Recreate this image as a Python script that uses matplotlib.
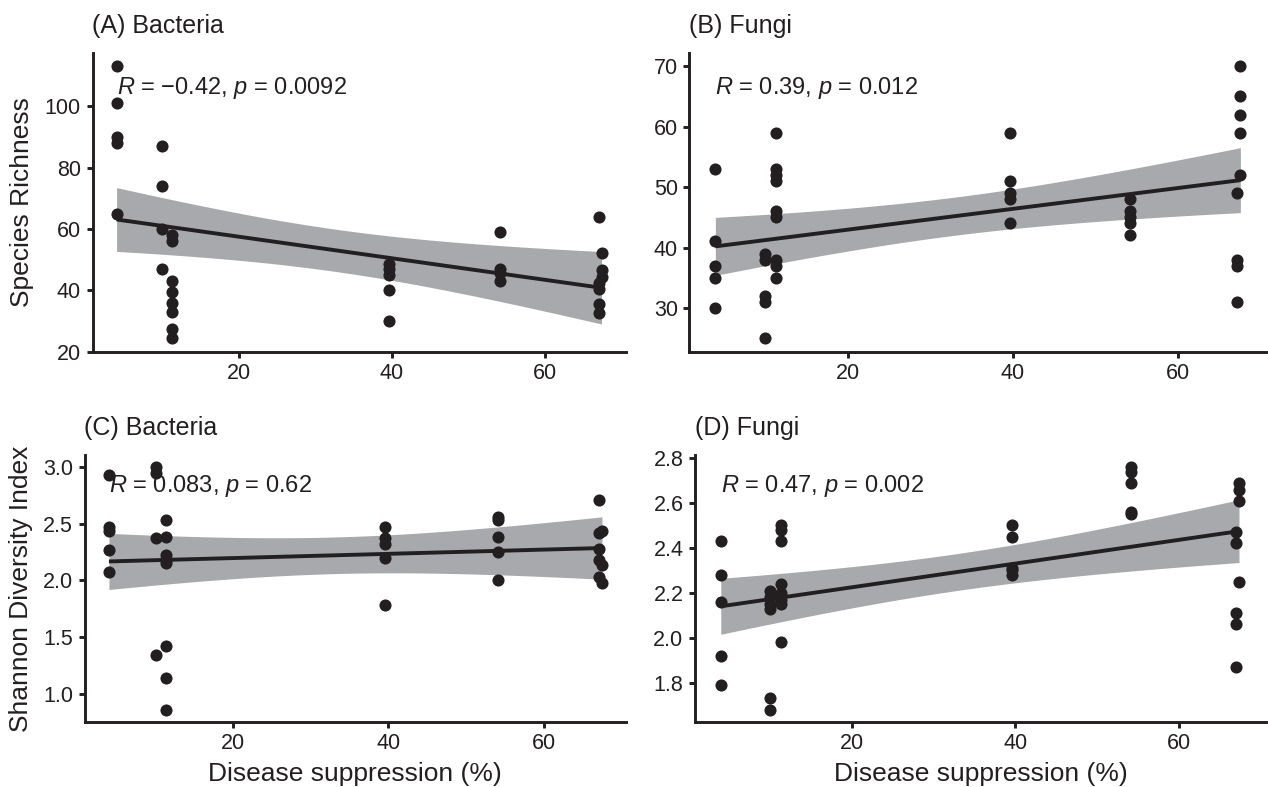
import numpy as np
import matplotlib
matplotlib.use("Agg")
import matplotlib.pyplot as plt
from matplotlib.ticker import FormatStrFormatter

plt.rcParams["font.family"] = ["Liberation Sans", "DejaVu Sans"]
plt.rcParams["mathtext.fontset"] = "custom"
plt.rcParams["mathtext.rm"] = "Liberation Sans"
plt.rcParams["mathtext.it"] = "Liberation Sans:italic"

INK = "#231f20"
BAND = "#a7a9ac"

# disease suppression (%) of each sample, per panel
x_bac_rich = [4, 4, 4, 4, 4,
              10, 10, 10, 10,
              11.3, 11.3, 11.3, 11.3, 11.3, 11.3, 11.3, 11.3,
              39.6, 39.6, 39.6, 39.6, 39.6,
              54.1, 54.1, 54.1, 54.1,
              67.1, 67.1, 67.1, 67.1, 67.1,
              67.4, 67.4, 67.4]
y_bac_rich = [113, 101, 90, 88, 65,
              87, 74, 60, 47,
              58, 56, 43, 39.5, 36, 33, 27.5, 24.5,
              48.5, 47, 45, 40, 30,
              59, 47, 45.5, 43,
              64, 42.5, 40.5, 35.5, 32.5,
              52, 46.5, 44.5]

x_fun_rich = [4, 4, 4, 4, 4,
              10, 10, 10, 10, 10,
              11.3, 11.3, 11.3, 11.3, 11.3, 11.3, 11.3, 11.3, 11.3,
              39.6, 39.6, 39.6, 39.6, 39.6,
              54.1, 54.1, 54.1, 54.1, 54.1,
              67.5, 67.5, 67.5, 67.5, 67.5,
              67.1, 67.1, 67.1, 67.1]
y_fun_rich = [53, 41, 37, 35, 30,
              39, 38, 32, 31, 25,
              59, 53, 52, 51, 46, 45, 38, 37, 35,
              59, 51, 49, 48, 44,
              48, 46, 45, 44, 42,
              70, 65, 62, 59, 52,
              49, 38, 37, 31]

x_bac_shan = [4, 4, 4, 4, 4,
              10, 10, 10, 10,
              11.3, 11.3, 11.3, 11.3, 11.3, 11.3, 11.3, 11.3,
              39.6, 39.6, 39.6, 39.6, 39.6,
              54.1, 54.1, 54.1, 54.1, 54.1,
              67.1, 67.1, 67.1, 67.1, 67.1,
              67.5, 67.5, 67.5]
y_bac_shan = [2.93, 2.47, 2.44, 2.27, 2.07,
              3.0, 2.95, 2.37, 1.34,
              2.53, 2.38, 2.22, 2.18, 2.15, 1.42, 1.14, 0.86,
              2.47, 2.37, 2.32, 2.20, 1.78,
              2.56, 2.53, 2.38, 2.25, 2.0,
              2.71, 2.42, 2.28, 2.18, 2.03,
              2.44, 2.14, 1.98]

x_fun_shan = [4, 4, 4, 4, 4,
              10, 10, 10, 10, 10, 10,
              11.3, 11.3, 11.3, 11.3, 11.3, 11.3, 11.3, 11.3,
              39.6, 39.6, 39.6, 39.6, 39.6,
              54.1, 54.1, 54.1, 54.1, 54.1,
              67.3, 67.3, 67.3, 67.3,
              66.9, 66.9, 66.9, 66.9, 66.9]
y_fun_shan = [2.43, 2.28, 2.16, 1.92, 1.79,
              2.21, 2.18, 2.15, 2.13, 1.73, 1.68,
              2.50, 2.48, 2.43, 2.24, 2.20, 2.17, 2.15, 1.98,
              2.50, 2.45, 2.31, 2.30, 2.28,
              2.76, 2.74, 2.69, 2.56, 2.55,
              2.69, 2.66, 2.61, 2.25,
              2.47, 2.42, 2.11, 2.06, 1.87]

titles = ["(A) Bacteria", "(B) Fungi", "(C) Bacteria", "(D) Fungi"]
cor_labels = [r"$R$ = $-$0.42, $p$ = 0.0092",
              r"$R$ = 0.39, $p$ = 0.012",
              r"$R$ = 0.083, $p$ = 0.62",
              r"$R$ = 0.47, $p$ = 0.002"]
y_ticks = [[20, 40, 60, 80, 100],
           [30, 40, 50, 60, 70],
           [1.0, 1.5, 2.0, 2.5, 3.0],
           [1.8, 2.0, 2.2, 2.4, 2.6, 2.8]]
x_ticks = [20, 40, 60]


def t975(df):
    # Cornish-Fisher approximation of the 97.5% Student t quantile
    z = 1.959964
    return z + (z**3 + z) / (4 * df) + (5 * z**5 + 16 * z**3 + 3 * z) / (96 * df**2)


def lm_band(x, y, n=80):
    x = np.asarray(x, float)
    y = np.asarray(y, float)
    b, a = np.polyfit(x, y, 1)
    resid = y - (a + b * x)
    dof = len(x) - 2
    s = np.sqrt(np.sum(resid**2) / dof)
    xm = x.mean()
    sxx = np.sum((x - xm) ** 2)
    xs = np.linspace(x.min(), x.max(), n)
    fit = a + b * xs
    se = s * np.sqrt(1 / len(x) + (xs - xm) ** 2 / sxx)
    half = t975(dof) * se
    return xs, fit, fit - half, fit + half


W, H = 1268, 787


def rect(l, r, t, b):
    return [l / W, 1 - b / H, (r - l) / W, (b - t) / H]


fig = plt.figure(figsize=(W / 100, H / 100), dpi=100)
axes = [fig.add_axes(rect(92.5, 626, 52.7, 351.7)),
        fig.add_axes(rect(689.3, 1266, 52.7, 351.7)),
        fig.add_axes(rect(84.5, 626, 455, 721.7)),
        fig.add_axes(rect(695, 1266, 455, 721.7))]

data = [(x_bac_rich, y_bac_rich), (x_fun_rich, y_fun_rich),
        (x_bac_shan, y_bac_shan), (x_fun_shan, y_fun_shan)]

for i, ax in enumerate(axes):
    x, y = data[i]
    xs, fit, lo, hi = lm_band(x, y)
    ax.fill_between(xs, lo, hi, color=BAND, lw=0, zorder=1)
    ax.plot(xs, fit, color=INK, lw=2.8, zorder=2, solid_capstyle="butt")
    ax.scatter(x, y, s=76, color=INK, lw=0, zorder=3)

    ymin, ymax = min(y), max(y)
    pad = 0.05 * (ymax - ymin)
    ax.set_ylim(ymin - pad, ymax + pad)
    ax.set_xlim(0.85, 70.6)
    ax.set_xticks(x_ticks)
    ax.set_yticks(y_ticks[i])
    if i >= 2:
        ax.yaxis.set_major_formatter(FormatStrFormatter("%.1f"))

    for side in ("top", "right"):
        ax.spines[side].set_visible(False)
    for side in ("left", "bottom"):
        ax.spines[side].set_linewidth(2.1)
        ax.spines[side].set_color(INK)
    ax.tick_params(length=4.3, width=2.1, color=INK, labelsize=15.5,
                   labelcolor=INK, pad=4)

    ax.set_title(titles[i], loc="left", fontsize=18, color=INK, pad=14.5)
    ax.text(0.045, 0.862, cor_labels[i], transform=ax.transAxes,
            fontsize=17, color=INK, va="baseline", ha="left", zorder=4)

axes[0].set_ylabel("Species Richness", fontsize=19, color=INK)
axes[0].yaxis.set_label_coords((22 - 92.5) / (626 - 92.5), 0.5)
axes[2].set_ylabel("Shannon Diversity Index", fontsize=19, color=INK)
axes[2].yaxis.set_label_coords((21 - 84.5) / (626 - 84.5), 0.5)
for ax in axes[2:]:
    ax.set_xlabel("Disease suppression (%)", fontsize=19, color=INK)
    ax.xaxis.label.set_va("center")
    ax.xaxis.set_label_coords(0.5, -0.195)
for ax in axes[::2]:
    ax.yaxis.label.set_va("center")

fig.savefig("out.png", dpi=100)
